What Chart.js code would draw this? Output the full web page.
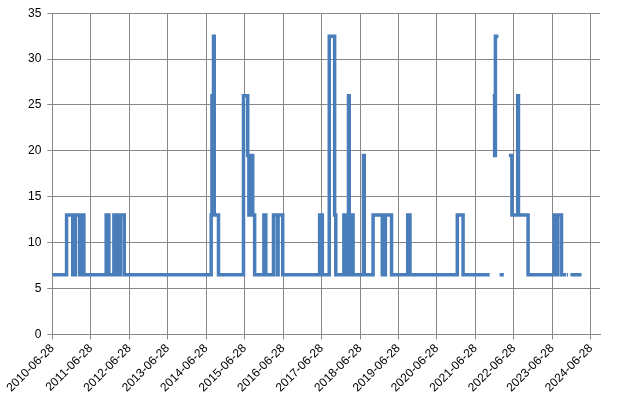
<!DOCTYPE html>
<html>
<head>
<meta charset="utf-8">
<script src="https://cdn.jsdelivr.net/npm/chart.js@4/dist/chart.umd.min.js"></script>
<style>
  html, body { margin: 0; padding: 0; background: #fff; }
  #wrap { width: 626px; height: 403px; }
</style>
</head>
<body>
<div id="wrap"><canvas id="myChart"></canvas></div>
<script>
// years since 2010-06-28 where the value changes (stepped line), null = gap
const changeX = [0, 0.37, 0.53, 0.6, 0.71, 0.74, 0.82, 1.4, 1.47, 1.6, 1.65, 1.68, 1.74, 1.77, 1.87,
  4.13, 4.15, 4.17, 4.19, 4.21, 4.32, 4.97, 5.08, 5.11, 5.13, 5.16, 5.18, 5.21, 5.26, 5.5, 5.55,
  5.75, 5.85, 5.87, 5.99, 6.95, 7.02, 7.2, 7.34, 7.37, 7.4, 7.58, 7.63, 7.7, 7.72, 7.74, 7.82,
  8.09, 8.11, 8.34, 8.58, 8.66, 8.82, 9.24, 9.3, 10.53, 10.68, 11.37, 11.38, 11.45, 11.5, 11.52, 11.6,
  11.61, 11.63, 11.74, 11.75, 11.87, 11.95, 12.1, 12.12, 12.37, 13.05, 13.12, 13.14, 13.24, 13.36,
  13.37, 13.38, 13.41, 13.42, 13.47, 13.76];
const changeY = [6.5, 13, 6.5, 13, 6.5, 13, 6.5, 13, 6.5, 13, 6.5, 13, 6.5, 13, 6.5,
  13, 26, 13, 32.5, 13, 6.5, 26, 19.5, 13, 19.5, 13, 19.5, 13, 6.5, 13, 6.5,
  13, 6.5, 13, 6.5, 13, 6.5, 32.5, 13, 6.5, 6.5, 13, 6.5, 26, 6.5, 13, 6.5,
  19.5, 6.5, 13, 6.5, 13, 6.5, 13, 6.5, 13, 6.5, 6.5, null, 26, 19.5, 32.5, 32.5,
  null, 6.5, 6.5, null, 19.5, 13, 26, 13, 6.5, 13, 6.5, 13, 6.5, 6.5,
  null, 6.5, 6.5, null, 6.5, 6.5];
const startYear = 2010;
const yTicks = [0, 5, 10, 15, 20, 25, 30, 35];

const points = changeX.map((x, i) => ({ x: x, y: changeY[i] }));

new Chart(document.getElementById('myChart').getContext('2d'), {
  type: 'line',
  data: {
    datasets: [{
      data: points,
      stepped: true,
      borderColor: '#4a7ebb',
      borderWidth: 3.5,
      pointRadius: 0,
      fill: false,
      spanGaps: false
    }]
  },
  options: {
    responsive: true,
    maintainAspectRatio: false,
    animation: false,
    layout: { padding: { top: 8, right: 26, left: 22, bottom: 6 } },
    plugins: { legend: { display: false }, tooltip: { enabled: false } },
    scales: {
      x: {
        type: 'linear',
        min: 0,
        max: 14.24,
        afterBuildTicks: function(axis) {
          axis.ticks = [];
          for (let i = 0; i <= 14; i++) axis.ticks.push({ value: i });
        },
        ticks: {
          autoSkip: false,
          maxRotation: 45,
          minRotation: 45,
          color: '#000',
          padding: 2,
          font: { family: 'Liberation Sans', size: 12 },
          callback: v => (startYear + v) + '-06-28'
        },
        grid: { color: '#868686', lineWidth: 1, tickLength: 5 },
        border: { color: '#868686' }
      },
      y: {
        min: 0,
        max: 35,
        afterBuildTicks: function(axis) {
          axis.ticks = yTicks.map(v => ({ value: v }));
        },
        ticks: { color: '#000', padding: 6, font: { family: 'Liberation Sans', size: 12 } },
        grid: { color: '#868686', lineWidth: 1, tickLength: 5 },
        border: { color: '#868686' }
      }
    }
  }
});
</script>
</body>
</html>
